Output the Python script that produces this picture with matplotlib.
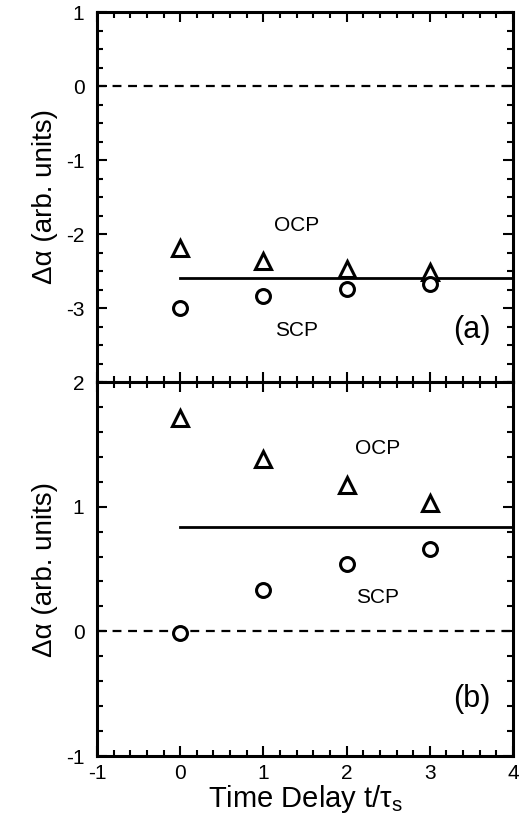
import matplotlib
matplotlib.use("Agg")
import matplotlib.pyplot as plt
from matplotlib.ticker import MultipleLocator

plt.rcParams['font.family'] = ['Liberation Sans', 'DejaVu Sans']
plt.rcParams['axes.unicode_minus'] = False

delay = [0, 1, 2, 3]
ocp_a = [-2.19, -2.36, -2.47, -2.51]
scp_a = [-3.0, -2.84, -2.74, -2.68]
mean_a = -2.6
ocp_b = [1.71, 1.38, 1.17, 1.03]
scp_b = [-0.01, 0.33, 0.54, 0.66]
mean_b = 0.84

fig = plt.figure(figsize=(5.24, 8.16), dpi=100)
L, R = 97/524, 513/524
ax1 = fig.add_axes([L, 1-382/816, R-L, (382-12)/816])
ax2 = fig.add_axes([L, 1-756/816, R-L, (756-382)/816])

def style(ax, ymin, ymax, yminor):
    ax.set_xlim(-1, 4)
    ax.set_ylim(ymin, ymax)
    ax.xaxis.set_major_locator(MultipleLocator(1))
    ax.xaxis.set_minor_locator(MultipleLocator(0.2))
    ax.yaxis.set_major_locator(MultipleLocator(1))
    ax.yaxis.set_minor_locator(MultipleLocator(yminor))
    ax.tick_params(which='both', direction='in', top=True, right=True, labelsize=15, width=1.5)
    ax.tick_params(which='major', length=7)
    ax.tick_params(which='minor', length=4)
    ax.tick_params(axis='y', pad=9)
    ax.tick_params(axis='x', pad=6)
    for s in ax.spines.values():
        s.set_linewidth(2.2)
    ax.set_ylabel('Δα (arb. units)', fontsize=20, labelpad=6)

style(ax1, -4, 1, 0.25)
style(ax2, -1, 2, 0.2)
ax1.set_yticks([-3, -2, -1, 0, 1])
ax1.tick_params(labelbottom=False)

mk = dict(linestyle='none', markerfacecolor='white', markeredgecolor='black', markeredgewidth=2.2)
for ax, o, s, m, lab, ly in [(ax1, ocp_a, scp_a, mean_a, '(a)', -3.3), (ax2, ocp_b, scp_b, mean_b, '(b)', -0.54)]:
    ax.axhline(0, color='black', linestyle=(0, (4, 3)), linewidth=1.6)
    ax.plot([0, 4], [m, m], color='black', linewidth=2)
    ax.plot(delay, o, marker='^', markersize=11, **mk)
    ax.plot(delay, s, marker='o', markersize=10, **mk)
    ax.text(3.5, ly, lab, fontsize=22, ha='center', va='center')

ax1.text(1.4, -1.88, 'OCP', fontsize=15, ha='center', va='center')
ax1.text(1.4, -3.31, 'SCP', fontsize=15, ha='center', va='center')
ax2.text(2.37, 1.47, 'OCP', fontsize=15, ha='center', va='center')
ax2.text(2.37, 0.27, 'SCP', fontsize=15, ha='center', va='center')

ax2.set_xlabel('Time Delay t/τ$_\\mathregular{s}$', fontsize=21, labelpad=0)

fig.savefig('out.png', dpi=100)
